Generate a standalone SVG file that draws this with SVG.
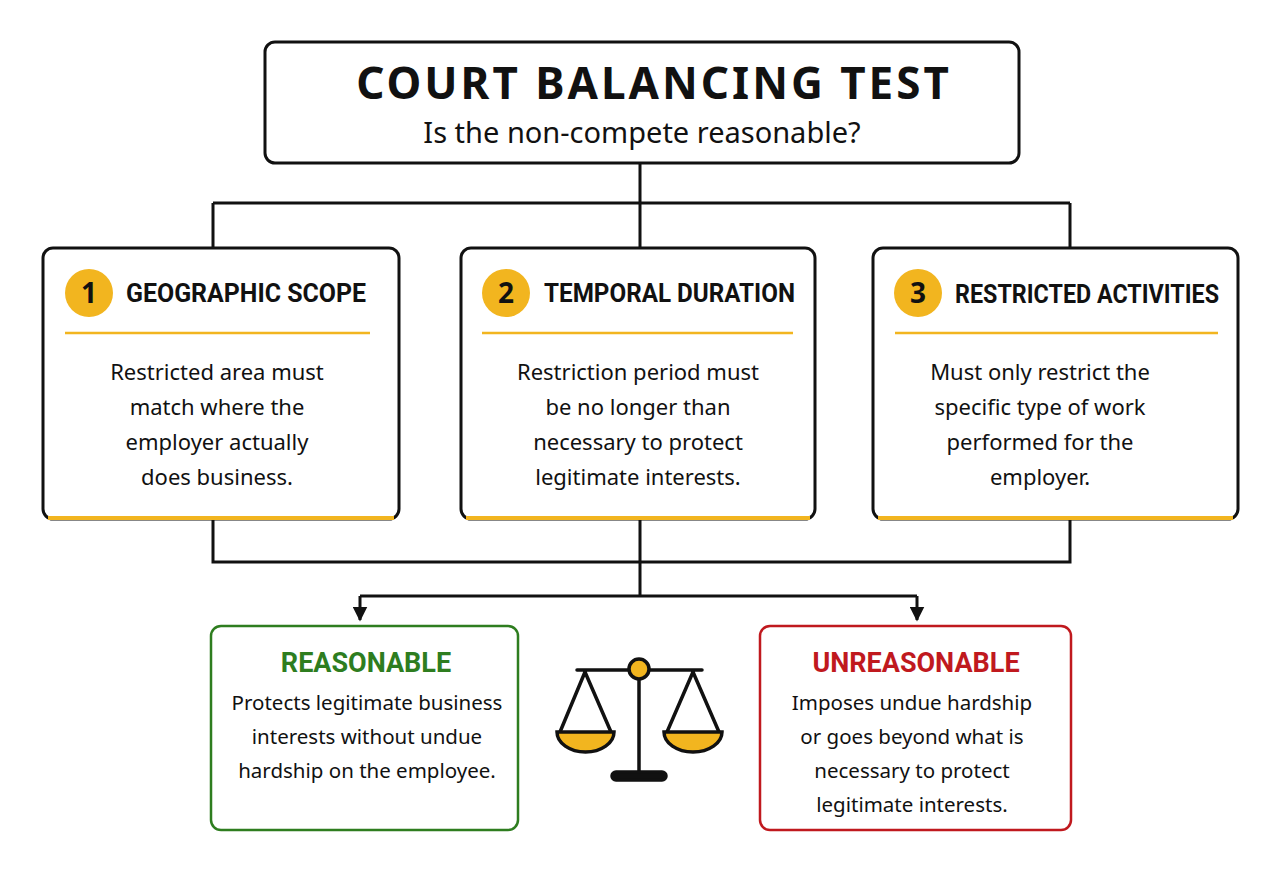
<svg xmlns="http://www.w3.org/2000/svg" width="1280" height="874" viewBox="0 0 1280 874">
<defs>
<marker id="ar" viewBox="0 0 10 10" refX="9" refY="5" markerWidth="5" markerHeight="5" orient="auto" markerUnits="strokeWidth"><path d="M0,0L10,5L0,10z" fill="#111"/></marker>
<style>
text{font-family:"Noto Sans","Liberation Sans",sans-serif;text-anchor:middle;fill:#111}
.box{fill:#fff;stroke:#111;stroke-width:3}
.hd{font-family:Roboto,"Liberation Sans",sans-serif;font-weight:bold;font-size:25px;text-anchor:start}
.bd{font-size:22px}
.sm{font-size:20.5px}
.ln{stroke:#111;stroke-width:3;fill:none}
.gold{fill:#f2b51f}
</style>
</defs>
<rect width="1280" height="874" fill="#fff"/>
<g id="connectors" class="ln">
<path d="M640,163V203M213,203H1070M213,203V248M640,203V248M1070,203V248"/>
<path d="M213,519V562H1070V519M640,519V596M360,596H917"/>
<path d="M360,596V620" marker-end="url(#ar)"/>
<path d="M917,596V620" marker-end="url(#ar)"/>
</g>
<g id="title">
<rect class="box" x="265" y="42" width="754" height="121" rx="10"/>
<text x="654" y="99" style="font-weight:bold;font-size:44px;letter-spacing:3px">COURT BALANCING TEST</text>
<text x="642" y="143" style="font-size:29px">Is the non-compete reasonable?</text>
</g>
<g id="n1">
<rect class="box" x="43" y="248" width="356" height="271" rx="10"/>
<path d="M48,518H394" stroke="#f2b51f" stroke-width="4"/>
<circle class="gold" cx="89" cy="293" r="24"/>
<text x="89" y="303" style="font-weight:bold;font-size:28px">1</text>
<text class="hd" x="126" y="302" textLength="240" lengthAdjust="spacingAndGlyphs">GEOGRAPHIC SCOPE</text>
<path d="M65,333H370" stroke="#f2b51f" stroke-width="2.5"/>
<text class="bd" x="217" y="380">Restricted area must</text>
<text class="bd" x="217" y="415">match where the</text>
<text class="bd" x="217" y="450">employer actually</text>
<text class="bd" x="217" y="485">does business.</text>
</g>
<g id="n2">
<rect class="box" x="461" y="248" width="354" height="271" rx="10"/>
<path d="M466,518H810" stroke="#f2b51f" stroke-width="4"/>
<circle class="gold" cx="506" cy="293" r="24"/>
<text x="506" y="303" style="font-weight:bold;font-size:28px">2</text>
<text class="hd" x="544" y="302" textLength="251" lengthAdjust="spacingAndGlyphs">TEMPORAL DURATION</text>
<path d="M482,333H793" stroke="#f2b51f" stroke-width="2.5"/>
<text class="bd" x="638" y="380">Restriction period must</text>
<text class="bd" x="638" y="415">be no longer than</text>
<text class="bd" x="638" y="450">necessary to protect</text>
<text class="bd" x="638" y="485">legitimate interests.</text>
</g>
<g id="n3">
<rect class="box" x="873" y="248" width="365" height="271" rx="10"/>
<path d="M878,518H1233" stroke="#f2b51f" stroke-width="4"/>
<circle class="gold" cx="918" cy="293" r="24"/>
<text x="918" y="303" style="font-weight:bold;font-size:28px">3</text>
<text class="hd" x="955" y="303" textLength="264" lengthAdjust="spacingAndGlyphs">RESTRICTED ACTIVITIES</text>
<path d="M895,333H1218" stroke="#f2b51f" stroke-width="2.5"/>
<text class="bd" x="1040" y="380">Must only restrict the</text>
<text class="bd" x="1040" y="415">specific type of work</text>
<text class="bd" x="1040" y="450">performed for the</text>
<text class="bd" x="1040" y="485">employer.</text>
</g>
<g id="reasonable">
<rect x="211" y="626" width="307" height="204" rx="10" fill="#fff" stroke="#2e7d1f" stroke-width="2.5"/>
<text x="366" y="672" style="font-family:Roboto,'Liberation Sans',sans-serif;font-weight:bold;font-size:27px;fill:#2e7d1f">REASONABLE</text>
<text class="sm" x="367" y="710">Protects legitimate business</text>
<text class="sm" x="367" y="744">interests without undue</text>
<text class="sm" x="367" y="778">hardship on the employee.</text>
</g>
<g id="unreasonable">
<rect x="760" y="626" width="311" height="204" rx="10" fill="#fff" stroke="#c0191e" stroke-width="2.5"/>
<text x="916" y="672" style="font-family:Roboto,'Liberation Sans',sans-serif;font-weight:bold;font-size:27px;fill:#c0191e">UNREASONABLE</text>
<text class="sm" x="912" y="710">Imposes undue hardship</text>
<text class="sm" x="912" y="744">or goes beyond what is</text>
<text class="sm" x="912" y="778">necessary to protect</text>
<text class="sm" x="912" y="812">legitimate interests.</text>
</g>
<g id="scale" stroke="#111" stroke-width="3.5" stroke-linecap="round">
<path d="M577,670H702M639,670V772M585,672L560,732M585,672L611,732M693,672L667,732M693,672L719,732" fill="none"/>
<path class="gold" d="M557,732H614A28.5,20 0 0 1 557,732Z"/>
<path class="gold" d="M664,732H722A29,20 0 0 1 664,732Z"/>
<circle class="gold" cx="639" cy="669" r="10"/>
<rect x="612" y="772" width="54" height="8" rx="4" fill="#111"/>
</g>
</svg>
